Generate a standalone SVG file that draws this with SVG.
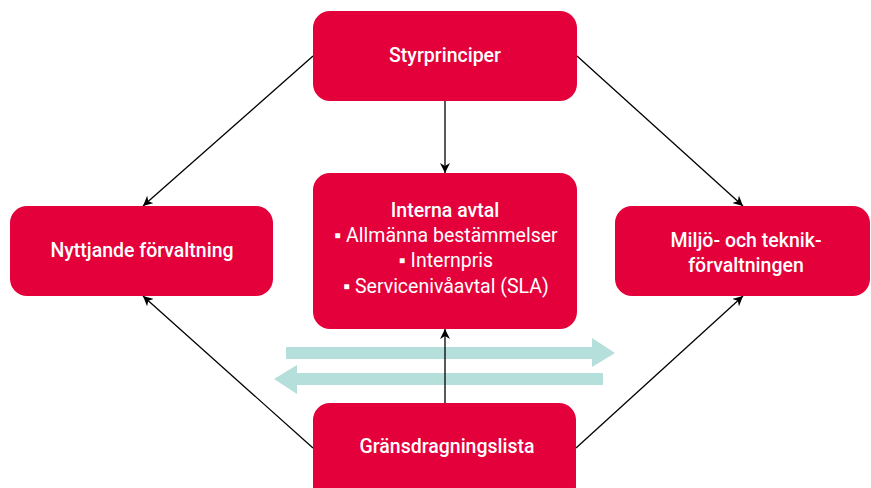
<svg xmlns="http://www.w3.org/2000/svg" width="871" height="488" viewBox="0 0 871 488">
  <defs>
    <marker id="head" viewBox="0 0 10 10" refX="10" refY="5" markerWidth="10" markerHeight="10" markerUnits="userSpaceOnUse" orient="auto">
      <path d="M0,0 L10,5 L0,10 L3,5 Z" fill="#000"/>
    </marker>
    <style>
      .box { fill: #e4003a; }
      .title { fill: #fff; font-family: Roboto, "Liberation Sans", sans-serif; font-size: 19.5px; font-weight: 500; text-anchor: middle; }
      .item { fill: #fff; font-family: Roboto, "Liberation Sans", sans-serif; font-size: 19.5px; font-weight: 400; text-anchor: middle; }
      .link { stroke: #000; stroke-width: 1.3; fill: none; marker-end: url(#head); }
      .flow { fill: #b5dfdb; }
    </style>
  </defs>

  <!-- exchange arrows between the administrations -->
  <g id="flows">
    <polygon class="flow" points="286,347 592,347 592,338 615,353 592,367 592,359 286,359"/>
    <polygon class="flow" points="603,373 297,373 297,365 274,379 297,394 297,385 603,385"/>
  </g>

  <g id="connectors">
    <line class="link" x1="445" y1="101" x2="445" y2="173"/>
    <line class="link" x1="445" y1="403" x2="445" y2="329"/>
    <line class="link" x1="313" y1="56" x2="143" y2="206"/>
    <line class="link" x1="577" y1="56" x2="743" y2="206"/>
    <line class="link" x1="313" y1="448" x2="143" y2="296"/>
    <line class="link" x1="576" y1="448" x2="743" y2="296"/>
  </g>

  <g id="styrprinciper">
    <rect class="box" x="313" y="11" width="264" height="90" rx="17"/>
    <text class="title" x="445" y="62">Styrprinciper</text>
  </g>

  <g id="interna-avtal">
    <rect class="box" x="313" y="173" width="264" height="156" rx="17"/>
    <text class="title" x="445" y="217">Interna avtal</text>
    <text class="item" x="446" y="242">▪ Allmänna bestämmelser</text>
    <text class="item" x="446" y="267">▪ Internpris</text>
    <text class="item" x="446" y="293">▪ Servicenivåavtal (SLA)</text>
  </g>

  <g id="nyttjande">
    <rect class="box" x="10" y="206" width="263" height="90" rx="17"/>
    <text class="title" x="142" y="257">Nyttjande förvaltning</text>
  </g>

  <g id="miljo-teknik">
    <rect class="box" x="615" y="206" width="255" height="90" rx="17"/>
    <text class="title" x="746" y="247">Miljö- och teknik-</text>
    <text class="title" x="746" y="272">förvaltningen</text>
  </g>

  <g id="gransdragningslista">
    <rect class="box" x="313" y="403" width="263" height="100" rx="17"/>
    <text class="title" x="447" y="453">Gränsdragningslista</text>
  </g>
</svg>
